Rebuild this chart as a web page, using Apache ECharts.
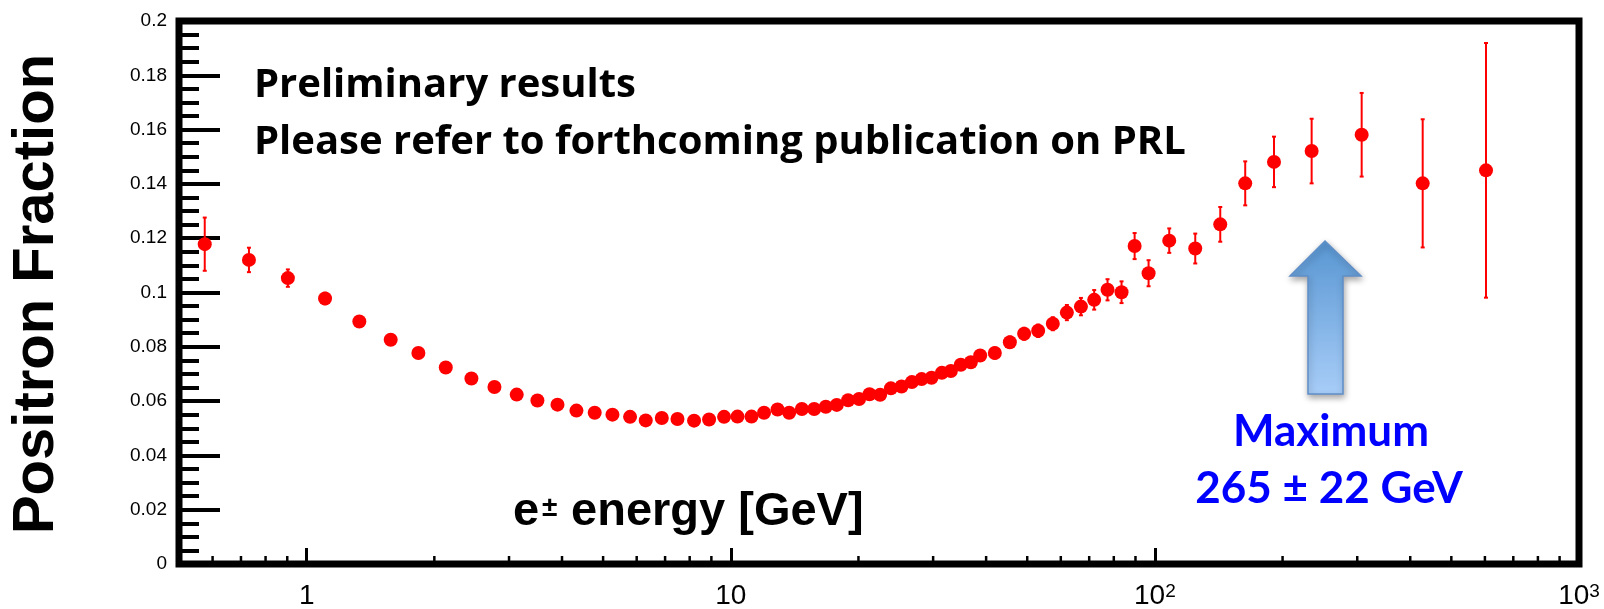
<!DOCTYPE html>
<html>
<head>
<meta charset="utf-8">
<script src="https://cdn.jsdelivr.net/npm/echarts@6/dist/echarts.min.js"></script>
<style>
  html, body { margin: 0; padding: 0; background: #ffffff; }
  #chart { width: 1604px; height: 609px; }
</style>
</head>
<body>
<div id="chart"></div>
<script>
// e± energy bins [GeV]
const energies = [
  0.575, 0.731, 0.903, 1.105, 1.331, 1.578, 1.834, 2.128, 2.446, 2.772,
  3.128, 3.500, 3.903, 4.326, 4.777, 5.260, 5.788, 6.302, 6.876, 7.487,
  8.193, 8.889, 9.643, 10.37, 11.19, 11.98, 12.89, 13.73, 14.71, 15.73,
  16.75, 17.78, 18.91, 20.07, 21.24, 22.50, 23.85, 25.27, 26.73, 28.18,
  29.74, 31.45, 33.03, 34.86, 36.81, 38.73, 41.94, 45.50, 49.17, 53.06,
  57.45, 62.01, 66.93, 71.92, 77.33, 83.44, 89.58, 96.63, 108.1, 124.5,
  142.6, 163.3, 190.9, 234.2, 307.3, 428.0, 603.6
];

// Positron fraction in each bin
const fractions = [
  0.1178, 0.1120, 0.1053, 0.0978, 0.0893, 0.0826, 0.0777, 0.0724, 0.0683, 0.0652,
  0.0624, 0.0602, 0.0587, 0.0565, 0.0557, 0.0550, 0.0542, 0.0529, 0.0538, 0.0534,
  0.0528, 0.0532, 0.0542, 0.0543, 0.0543, 0.0557, 0.0569, 0.0557, 0.0571, 0.0571,
  0.0579, 0.0586, 0.0603, 0.0608, 0.0625, 0.0623, 0.0647, 0.0654, 0.0670, 0.0681,
  0.0686, 0.0704, 0.0711, 0.0734, 0.0743, 0.0768, 0.0777, 0.0817, 0.0848, 0.0859,
  0.0885, 0.0926, 0.0948, 0.0973, 0.1010, 0.1001, 0.1171, 0.1071, 0.1191, 0.1162,
  0.1251, 0.1402, 0.1481, 0.1521, 0.1581, 0.1402, 0.1450
];

// Symmetric uncertainty on each fraction
const errors = [
  0.0098, 0.0045, 0.0032, 0.0021, 0.0019, 0.0018, 0.0017, 0.0016, 0.0015, 0.0014,
  0.0014, 0.0013, 0.0013, 0.0012, 0.0012, 0.0012, 0.0012, 0.0012, 0.0012, 0.0012,
  0.0012, 0.0012, 0.0012, 0.0012, 0.0012, 0.0012, 0.0012, 0.0012, 0.0013, 0.0013,
  0.0013, 0.0013, 0.0014, 0.0014, 0.0014, 0.0015, 0.0015, 0.0015, 0.0016, 0.0016,
  0.0017, 0.0017, 0.0018, 0.0018, 0.0019, 0.0019, 0.0020, 0.0021, 0.0022, 0.0023,
  0.0024, 0.0028, 0.0032, 0.0036, 0.0039, 0.0040, 0.0048, 0.0048, 0.0045, 0.0055,
  0.0064, 0.0081, 0.0093, 0.0119, 0.0154, 0.0236, 0.0469
];

// Logarithmic minor tick positions on the energy axis
const xMinorTicks = [
  0.6, 0.7, 0.8, 0.9,
  2, 3, 4, 5, 6, 7, 8, 9,
  20, 30, 40, 50, 60, 70, 80, 90,
  200, 300, 400, 500, 600, 700, 800, 900
];

// Decade labels on the energy axis
const xTickLabels = { 1: '1', 10: '10', 100: '{b|10}{s|2}', 1000: '{b|10}{s|3}' };

const titleLines = ['Preliminary results', 'Please refer to forthcoming publication on PRL'];
const maximumLines = ['Maximum', '265 \u00b1 22 GeV'];

const RED = '#ff0000';
const SANS = '"Liberation Sans", Arial, Helvetica, sans-serif';
const NOTE_FONT = '"Open Sans", Lato, sans-serif';
const BLUE_FONT = 'Lato, "Open Sans", sans-serif';

const chart = echarts.init(document.getElementById('chart'), null, { renderer: 'canvas' });

const pointData = energies.map((e, i) => [e, fractions[i]]);
const errorData = energies.map((e, i) => [e, fractions[i], errors[i]]);

function renderErrorBar(params, api) {
  const x = api.value(0), y = api.value(1), err = api.value(2);
  const hi = api.coord([x, y + err]);
  const lo = api.coord([x, y - err]);
  const cap = 2;
  const style = { stroke: RED, lineWidth: 2 };
  return {
    type: 'group',
    children: [
      { type: 'line', shape: { x1: hi[0], y1: hi[1], x2: lo[0], y2: lo[1] }, style },
      { type: 'line', shape: { x1: hi[0] - cap, y1: hi[1], x2: hi[0] + cap, y2: hi[1] }, style },
      { type: 'line', shape: { x1: lo[0] - cap, y1: lo[1], x2: lo[0] + cap, y2: lo[1] }, style }
    ]
  };
}

function renderMinorTick(params, api) {
  const p = api.coord([api.value(0), 0]);
  return {
    type: 'line',
    shape: { x1: p[0], y1: p[1], x2: p[0], y2: p[1] - 8 },
    style: { stroke: '#000', lineWidth: 2.5 }
  };
}

const option = {
  backgroundColor: '#ffffff',
  animation: false,
  grid: {
    left: 179, right: 25, top: 21, bottom: 45,
    show: true,
    borderColor: '#000',
    borderWidth: 7,
    backgroundColor: 'transparent',
    outerBoundsMode: 'none'
  },
  xAxis: {
    type: 'log',
    logBase: 10,
    min: 0.5,
    max: 1000,
    axisLine: { show: false },
    splitLine: { show: false },
    axisTick: { inside: true, length: 16, lineStyle: { color: '#000', width: 3 } },
    axisLabel: {
      margin: 18,
      color: '#000',
      fontSize: 28,
      fontFamily: SANS,
      showMinLabel: false,
      formatter: function (v) {
        const k = Math.round(v * 1000) / 1000;
        return xTickLabels[k] || '';
      },
      rich: {
        b: { fontSize: 28, fontFamily: SANS, color: '#000' },
        s: { fontSize: 19, fontFamily: SANS, color: '#000', verticalAlign: 'top' }
      }
    }
  },
  yAxis: {
    type: 'value',
    min: 0,
    max: 0.2,
    interval: 0.02,
    axisLine: { show: false },
    splitLine: { show: false },
    axisTick: { inside: true, length: 41, lineStyle: { color: '#000', width: 4 } },
    minorTick: { show: true, splitNumber: 4, length: 20, lineStyle: { color: '#000', width: 4 } },
    minorSplitLine: { show: false },
    axisLabel: { margin: 12, color: '#000', fontSize: 19, fontFamily: SANS }
  },
  series: [
    {
      type: 'custom',
      name: 'minor ticks',
      data: xMinorTicks.map(v => [v, 0]),
      renderItem: renderMinorTick,
      clip: false,
      silent: true,
      z: 5
    },
    {
      type: 'custom',
      name: 'uncertainty',
      data: errorData,
      renderItem: renderErrorBar,
      silent: true,
      z: 2
    },
    {
      type: 'scatter',
      name: 'Positron Fraction',
      data: pointData,
      symbol: 'circle',
      symbolSize: 14,
      itemStyle: { color: RED, opacity: 1 },
      z: 3
    }
  ],
  graphic: [
    {
      type: 'text',
      x: 36.5, y: 294,
      rotation: Math.PI / 2,
      style: {
        text: 'Positron Fraction',
        fontSize: 58, fontWeight: 'bold', fontFamily: SANS,
        fill: '#000', align: 'center', verticalAlign: 'middle'
      }
    },
    {
      type: 'text',
      x: 254, y: 86,
      style: {
        text: titleLines[0],
        fontSize: 40, fontWeight: 'bold', fontFamily: NOTE_FONT,
        fill: '#000', align: 'left', verticalAlign: 'middle'
      }
    },
    {
      type: 'text',
      x: 254, y: 143,
      style: {
        text: titleLines[1],
        fontSize: 40, fontWeight: 'bold', fontFamily: NOTE_FONT,
        fill: '#000', align: 'left', verticalAlign: 'middle'
      }
    },
    // axis title drawn inside the frame: "e" + raised "±" + rest
    {
      type: 'text',
      x: 513, y: 512,
      style: {
        text: 'e',
        fontSize: 47, fontWeight: 'bold', fontFamily: SANS,
        fill: '#000', align: 'left', verticalAlign: 'middle'
      }
    },
    {
      type: 'text',
      x: 542, y: 508,
      style: {
        text: '\u00b1',
        fontSize: 28, fontWeight: 'bold', fontFamily: SANS,
        fill: '#000', align: 'left', verticalAlign: 'middle'
      }
    },
    {
      type: 'text',
      x: 558, y: 512,
      style: {
        text: ' energy [GeV]',
        fontSize: 47, fontWeight: 'bold', fontFamily: SANS,
        fill: '#000', align: 'left', verticalAlign: 'middle'
      }
    },
    {
      type: 'polygon',
      shape: {
        points: [[1325, 241], [1361, 276], [1343, 276], [1343, 394], [1308, 394], [1308, 276], [1290, 276]]
      },
      style: {
        fill: new echarts.graphic.LinearGradient(0, 0, 0, 1, [
          { offset: 0, color: '#5896d2' },
          { offset: 1, color: '#a8cdf8' }
        ]),
        stroke: '#5f8fc8',
        lineWidth: 1.5,
        shadowBlur: 6,
        shadowOffsetX: 1,
        shadowOffsetY: 3,
        shadowColor: 'rgba(0,0,0,0.35)'
      },
      z: 10
    },
    {
      type: 'text',
      x: 1331, y: 431.7,
      style: {
        text: maximumLines[0],
        fontSize: 44, fontWeight: 'bold', fontFamily: BLUE_FONT,
        fill: '#0000ff', align: 'center', verticalAlign: 'middle'
      }
    },
    {
      type: 'text',
      x: 1329, y: 488.7,
      style: {
        text: maximumLines[1],
        fontSize: 44, fontWeight: 'bold', fontFamily: BLUE_FONT,
        fill: '#0000ff', align: 'center', verticalAlign: 'middle'
      }
    }
  ]
};

chart.setOption(option);
</script>
</body>
</html>
